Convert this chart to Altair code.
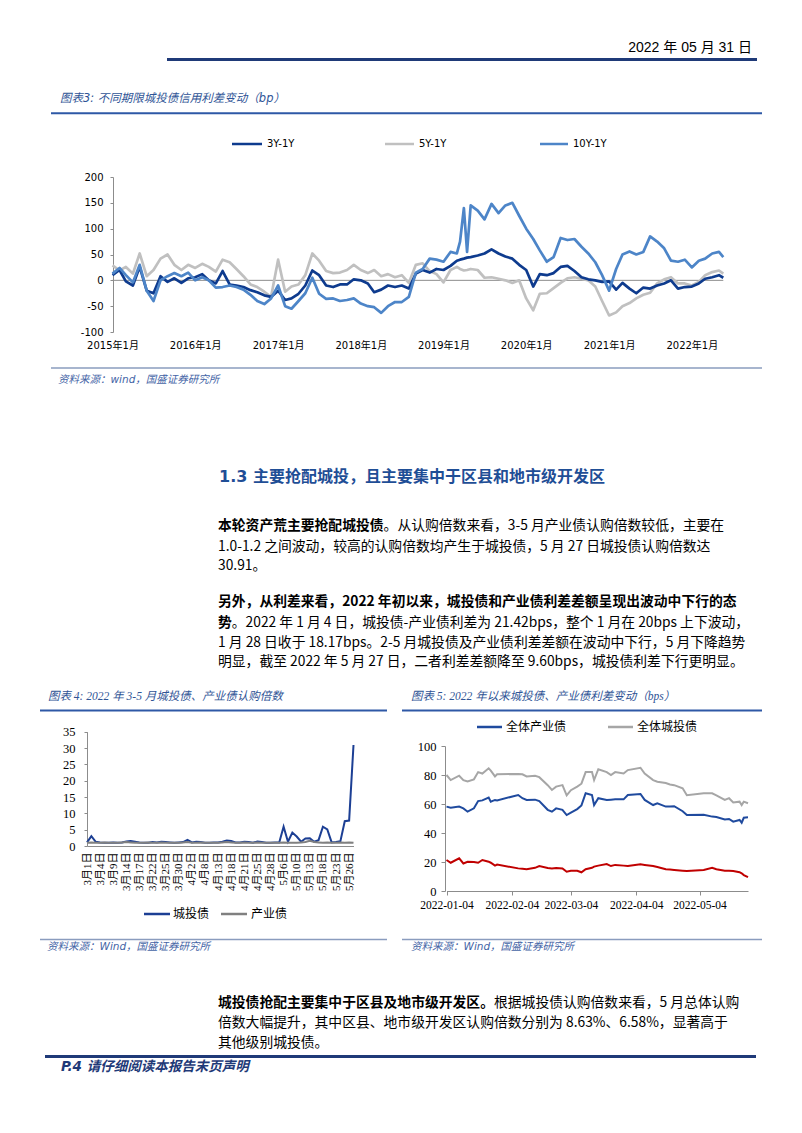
import altair as alt
import pandas as pd

# ======================= DATA =======================
# Chart 3: credit spreads by tenor (bp), read monthly (1st of month) 2015-01 .. 2022-05
spread_3y = [10, 20, -2, -10, 26, -20, -25, 8, -3, 4, -5, 4,
             6, 12, 0, -6, 18, -8, -10, -13, -19, -23, -29, -32,
             -20, -38, -35, -26, -10, 19, 10, -10, -13, -8, -8, 2,
             0, -6, -23, -18, -10, -13, -10, -16, 13, 20, 15, 22,
             20, 28, 38, 42, 45, 48, 52, 60, 52, 46, 42, 30,
             20, -12, 12, 10, 14, 26, 28, 18, 6, 2, 0, -3,
             -2, -18, -5, -16, -25, -14, -16, -10, -6, 0, -16, -13,
             -12, -6, 3, 6, 10]
spread_5y = [29, 19, 26, 13, 52, 8, 20, 42, 50, 30, 20, 30,
             24, 32, 26, 17, 40, 35, 22, 8, -8, -13, -22, -32,
             40, -22, -12, -8, 10, 52, 38, 18, 14, 15, 20, 30,
             20, 14, 20, 8, 12, 6, 10, -5, 30, 33, 18, 12,
             -4, 20, 26, 19, 22, 20, 5, 6, 3, 0, -5, 0,
             -35, -58, -26, -25, -15, -5, 4, 6, 3, 0, -12, -40,
             -68, -62, -50, -44, -35, -28, -24, -6, 2, 6, -6, -6,
             -10, -3, 10, 16, 19]
spread_10y = [13, 24, 10, -4, 30, -20, -40, 0, 8, 14, 8, 15,
              0, 6, 0, -14, -13, -10, -13, -18, -28, -40, -46, -35,
              -10, -50, -55, -40, -25, 5, -26, -36, -35, -40, -38, -35,
              -45, -50, -52, -63, -50, -42, -42, -32, 15, 22, 42, 40,
              36, 55, 52, 140, 145, 135, 118, 148, 130, 145, 150, 125,
              100, 80, 58, 36, 45, 82, 78, 80, 65, 52, 35, 10,
              -20, 22, 50, 56, 50, 55, 85, 75, 62, 38, 36, 40,
              25, 38, 42, 52, 55]
extra_dates = ["2019-03-15", "2019-04-15", "2022-05-20"]
extra_3y = [40, 44, 5]
extra_5y = [22, 20, 13]
extra_10y = [75, 55, 45]
month_dates = [f"{2015 + i // 12}-{i % 12 + 1:02d}-01" for i in range(len(spread_3y))]
series3_names = ["3Y-1Y", "5Y-1Y", "10Y-1Y"]

# Chart 4: subscription multiples, trading days Mar-May 2022
mar_days = [1, 2, 3, 4, 7, 8, 9, 10, 11, 14, 15, 16, 17, 18, 21, 22, 23, 24, 25, 28, 29, 30, 31]
apr_days = [1, 2, 6, 7, 8, 11, 12, 13, 14, 15, 18, 19, 20, 21, 22, 24, 25, 26, 27, 28, 29]
may_days = [5, 6, 7, 9, 10, 11, 12, 13, 16, 17, 18, 19, 20, 23, 24, 25, 26, 27]
days4 = ([f"3月{d}日" for d in mar_days] + [f"4月{d}日" for d in apr_days]
         + [f"5月{d}日" for d in may_days])
chengtou_mult = [1.1, 3.0, 1.3, 1.1, 1.0, 1.0, 1.1, 1.0, 1.1, 1.4,
                 1.5, 1.3, 1.1, 1.0, 1.0, 1.2, 1.1, 1.3, 1.2, 1.1,
                 1.0, 1.1, 1.2, 1.9, 1.1, 1.3, 1.2, 1.0, 1.0, 1.1,
                 1.1, 1.3, 1.7, 1.5, 1.1, 1.1, 1.3, 1.2, 1.0, 1.4,
                 1.2, 1.0, 1.0, 1.1, 1.1, 5.9, 1.3, 4.1, 2.9, 1.3,
                 2.3, 2.4, 1.3, 1.8, 5.9, 5.1, 1.1, 1.2, 1.5, 7.6,
                 7.8, 30.91]
chanye_mult = [1.0, 1.1, 1.0, 1.0, 1.1, 1.0, 1.0, 1.0, 1.1, 1.2,
               1.1, 1.0, 1.0, 1.0, 1.1, 1.0, 1.0, 1.1, 1.0, 1.0,
               1.0, 1.0, 1.1, 1.2, 1.0, 1.0, 1.1, 1.0, 1.0, 1.0,
               1.0, 1.1, 1.2, 1.1, 1.0, 1.0, 1.1, 1.0, 1.0, 1.1,
               1.0, 1.0, 1.0, 1.0, 1.0, 1.1, 1.0, 1.0, 1.0, 1.1,
               1.2, 1.6, 1.2, 1.1, 1.0, 1.1, 1.0, 1.0, 1.1, 1.0,
               1.1, 1.0]
legend4 = ["城投债", "产业债"]

# Chart 5: spreads since 2022 (bps)
dates5 = ["2022-01-04", "2022-01-06", "2022-01-10", "2022-01-12", "2022-01-14", "2022-01-17",
          "2022-01-19", "2022-01-21", "2022-01-24", "2022-01-25", "2022-01-27", "2022-01-28",
          "2022-02-07", "2022-02-09", "2022-02-11", "2022-02-15", "2022-02-17", "2022-02-21",
          "2022-02-23", "2022-02-25", "2022-02-28", "2022-03-02", "2022-03-04", "2022-03-07",
          "2022-03-09", "2022-03-11", "2022-03-14", "2022-03-15", "2022-03-17", "2022-03-21",
          "2022-03-23", "2022-03-25", "2022-03-29", "2022-03-31", "2022-04-06", "2022-04-08",
          "2022-04-12", "2022-04-14", "2022-04-18", "2022-04-20", "2022-04-22", "2022-04-26",
          "2022-04-28", "2022-05-06", "2022-05-10", "2022-05-12", "2022-05-16", "2022-05-18",
          "2022-05-20", "2022-05-23", "2022-05-24", "2022-05-25", "2022-05-27"]
chengtou_spread = [80, 76.5, 79.5, 76.5, 75.5, 77, 82, 81, 84.6, 83,
                   79, 80.5, 80.7, 80.5, 79, 79.5, 78.5, 73, 69.7, 72,
                   73, 66, 69.5, 72, 74, 82, 82, 76.5, 84, 82,
                   80, 82, 81, 83.4, 85, 81, 76.5, 75.4, 74.5, 73.5,
                   73, 70.8, 66, 67.4, 67.4, 66, 62.8, 64, 61, 61.6,
                   59.3, 61.6, 60.5]
chanye_spread = [58.2, 57.5, 58.2, 57, 54.7, 57, 62, 62.5, 64.5, 61.6,
                 62.8, 62.5, 66.2, 64, 62.8, 63, 62, 56, 54.7, 57,
                 56, 52.4, 54, 56.5, 59, 67.4, 66.2, 59.3, 64, 62.8,
                 63, 63.2, 63.2, 66.2, 66.9, 62.8, 59.3, 60.5, 58.2, 58.2,
                 58.5, 55, 52.4, 52.6, 51.3, 51, 49.4, 49.7, 47.8, 49,
                 47.1, 50.5, 50.8]
diff_spread = [21.4, 19.5, 22.5, 19, 20.2, 20, 19.5, 21.4, 20.2, 19.5,
               17.5, 18.2, 15.6, 15.3, 15, 16, 17.2, 15.8, 15.6, 15.8,
               15.6, 13.3, 14, 14, 12.9, 15, 16, 16.8, 17.5, 18.6,
               17.2, 18, 17.5, 17.2, 18.4, 18, 17.2, 16.5, 15, 14.8,
               14.5, 14, 13.8, 14.5, 16, 15, 14, 14, 13.8, 13,
               12.2, 11, 9.6]
legend5 = ["全体产业债", "全体城投债"]

# ======================= LAYOUT / STYLE =======================
W, H = 786, 1117
M = 8  # page margin


def X(v):
    return v - M


def Y(v):
    return v - M


NAVY = "#1F3A78"
CAPLINE = "#2E58A6"
CAP = "#2F5496"
SRC = "#4464A6"
SRCLINE = "#8A9CBE"
HEAD = "#1F4E96"
C3, C5, C10 = "#0E3B8E", "#C0C0C0", "#4D85C8"
B4, G4 = "#1C3F94", "#808080"
B5, G5, R5 = "#1F4A9E", "#A6A6A6", "#C00000"
F1 = "DejaVu Sans, Noto Sans CJK SC"
F4 = "Liberation Serif, Noto Sans CJK SC"
BODY = "Noto Sans CJK SC"


def T(x, y, s, size=13.8, weight="normal", style="normal", color="#000000",
      font=BODY, align="left"):
    return alt.Chart(pd.DataFrame({"s": [s]})).mark_text(
        align=align, baseline="middle", fontSize=size, fontWeight=weight,
        fontStyle=style, color=color, font=font
    ).encode(text="s:N", x=alt.value(X(x)), y=alt.value(Y(y)))


def HL(x1, x2, y, color, w):
    return alt.Chart(pd.DataFrame({"a": [0]})).mark_rule(
        color=color, strokeWidth=w
    ).encode(x=alt.value(X(x1)), x2=alt.value(X(x2)), y=alt.value(Y(y)))


def DT(s):
    yy, mm, dd = (int(p) for p in s.split("-"))
    return alt.DateTime(year=yy, month=mm, date=dd, utc=True)


layers = []

# ---------- page header ----------
layers.append(T(752, 48, "2022 年 05 月 31 日", size=14,
                font="Liberation Sans, Noto Sans CJK SC", align="right"))
layers.append(HL(167, 757, 59.5, NAVY, 3))

# ---------- chart 3 ----------
layers.append(T(60, 99, "图表3: 不同期限城投债信用利差变动（bp）", size=11.5,
                style="italic", color=CAP, font=F1))
layers.append(HL(51, 762, 113.3, CAPLINE, 2))
for (x1, x2, xt), col, name in zip([(232, 262, 267), (385, 414, 419), (540, 568, 573)],
                                   [C3, C5, C10], series3_names):
    layers.append(HL(x1, x2, 144, col, 2.5))
    layers.append(T(xt, 144, name, size=10, font=F1))

sx1 = alt.Scale(domain=[DT("2015-01-01"), DT("2022-05-20")],
                range=[X(112.5), X(723.3)], nice=False)
sy1 = alt.Scale(domain=[-100, 200], range=[Y(332), Y(177)], nice=False, zero=False)
ax1 = alt.Axis(orient="bottom", offset=Y(332) - H, domain=False, ticks=False, tickSize=0,
               labelPadding=8, values=[DT(f"{yr}-01-01") for yr in range(2015, 2023)],
               format="%Y年%-m月", labelFont=F1, labelFontSize=10, labelColor="#000000",
               labelFlush=False, labelOverlap=False, grid=False, title=None)
ay1 = alt.Axis(orient="left", offset=-X(113), values=list(range(-100, 201, 50)),
               labelExpr="datum.value + ''", domainColor="#8C8C8C", tickColor="#8C8C8C",
               tickSize=3, labelPadding=7, labelFont=F1, labelFontSize=10,
               labelColor="#000000", labelFlush=False, grid=False, title=None)


def series_df(dates, vals, xdates, xvals):
    df = pd.DataFrame({"date": dates + xdates, "value": vals + xvals})
    return df.sort_values("date").reset_index(drop=True)


enc_x1 = alt.X("date:T", scale=sx1, axis=ax1)
enc_y1 = alt.Y("value:Q", scale=sy1, axis=ay1)
zero_df = pd.DataFrame({"date": [month_dates[0]], "date2": [extra_dates[-1]], "value": [0]})
zero1 = alt.Chart(zero_df).mark_rule(color="#8C8C8C", strokeWidth=1).encode(
    x=enc_x1, x2="date2:T", y=enc_y1)
sub1 = [zero1]
for vals, xv, col in [(spread_5y, extra_5y, C5), (spread_3y, extra_3y, C3),
                      (spread_10y, extra_10y, C10)]:
    sub1.append(alt.Chart(series_df(month_dates, vals, extra_dates, xv)).mark_line(
        color=col, strokeWidth=2.7, strokeJoin="round").encode(x=enc_x1, y=enc_y1))
layers.append(alt.layer(*sub1))

layers.append(HL(51, 762, 368, SRCLINE, 1.3))
layers.append(T(58, 380, "资料来源：wind，国盛证券研究所", size=10.5, style="italic",
                color=SRC, font=F1))

# ---------- section text ----------
layers.append(T(219, 477, "1.3 主要抢配城投，且主要集中于区县和地市级开发区", size=16,
                weight="bold", color=HEAD, font=F1))
bold_w = 13.8
body = [
    (218, 526, "本轮资产荒主要抢配城投债", "bold"),
    (218 + 12 * bold_w, 526, "。从认购倍数来看，3-5 月产业债认购倍数较低，主要在", "normal"),
    (218, 546.5, "1.0-1.2 之间波动，较高的认购倍数均产生于城投债，5 月 27 日城投债认购倍数达", "normal"),
    (218, 566, "30.91。", "normal"),
    (218, 602, "另外，从利差来看，2022 年初以来，城投债和产业债利差差额呈现出波动中下行的态", "bold"),
    (218, 622.5, "势", "bold"),
    (218 + bold_w, 622.5, "。2022 年 1 月 4 日，城投债-产业债利差为 21.42bps，整个 1 月在 20bps 上下波动，", "normal"),
    (218, 642.5, "1 月 28 日收于 18.17bps。2-5 月城投债及产业债利差差额在波动中下行，5 月下降趋势", "normal"),
    (218, 662, "明显，截至 2022 年 5 月 27 日，二者利差差额降至 9.60bps，城投债利差下行更明显。", "normal"),
    (218, 1003, "城投债抢配主要集中于区县及地市级开发区。", "bold"),
    (218 + 20 * bold_w, 1003, "根据城投债认购倍数来看，5 月总体认购", "normal"),
    (218, 1023, "倍数大幅提升，其中区县、地市级开发区认购倍数分别为 8.63%、6.58%，显著高于", "normal"),
    (218, 1043, "其他级别城投债。", "normal"),
]
for x, y, s, w in body:
    layers.append(T(x, y, s, size=13.8, weight=w))

# ---------- chart 4 ----------
layers.append(T(48, 697, "图表 4: 2022 年 3-5 月城投债、产业债认购倍数", size=11.5,
                style="italic", color=CAP, font=F4))
layers.append(HL(40, 387, 710.5, CAPLINE, 2))
sx4 = alt.Scale(type="point", domain=days4, range=[X(87), X(353.5)], padding=0)
sy4 = alt.Scale(domain=[0, 35], range=[Y(846), Y(731.7)], nice=False)
ax4 = alt.Axis(orient="bottom", offset=Y(846) - H, values=days4[::3], labelAngle=270,
               domainColor="#8C8C8C", ticks=False, tickSize=0, labelPadding=6,
               labelFont=F4, labelFontSize=11, labelColor="#000000", labelOverlap=False,
               labelFlush=False, grid=False, title=None)
ay4 = alt.Axis(orient="left", offset=-X(87), values=list(range(0, 36, 5)),
               domainColor="#8C8C8C", tickColor="#8C8C8C", tickSize=3, labelPadding=9,
               labelFont=F4, labelFontSize=12.5, labelColor="#000000", labelFlush=False,
               grid=False, title=None)
df4a = pd.DataFrame({"day": days4, "value": chengtou_mult})
df4b = pd.DataFrame({"day": days4, "value": chanye_mult})
enc_x4 = alt.X("day:O", scale=sx4, axis=ax4, sort=days4)
enc_y4 = alt.Y("value:Q", scale=sy4, axis=ay4)
layers.append(alt.layer(
    alt.Chart(df4a).mark_line(color=B4, strokeWidth=2).encode(x=enc_x4, y=enc_y4),
    alt.Chart(df4b).mark_line(color=G4, strokeWidth=2).encode(x=enc_x4, y=enc_y4),
))
layers.append(HL(144, 170, 914, B4, 2.5))
layers.append(T(173, 914, legend4[0], size=12, font=F4))
layers.append(HL(221, 247, 914, G4, 2.5))
layers.append(T(251, 914, legend4[1], size=12, font=F4))
layers.append(HL(40, 387, 939.5, SRCLINE, 1.3))
layers.append(T(47, 947, "资料来源：Wind，国盛证券研究所", size=10.5, style="italic",
                color=SRC, font=F1))

# ---------- chart 5 ----------
layers.append(T(411, 697, "图表 5: 2022 年以来城投债、产业债利差变动（bps）", size=11.5,
                style="italic", color=CAP, font=F4))
layers.append(HL(402, 762, 710.5, CAPLINE, 2))
sx5 = alt.Scale(domain=[DT("2022-01-04"), DT("2022-05-27")],
                range=[X(446.5), X(748)], nice=False)
sy5 = alt.Scale(domain=[0, 100], range=[Y(891), Y(746)], nice=False)
ax5 = alt.Axis(orient="bottom", offset=Y(891) - H,
               values=[DT(d) for d in ["2022-01-04", "2022-02-04", "2022-03-04",
                                        "2022-04-04", "2022-05-04"]],
               format="%Y-%m-%d", domainColor="#8C8C8C", tickColor="#8C8C8C", tickSize=4,
               labelPadding=4, labelFont=F4, labelFontSize=11.5, labelColor="#000000",
               labelOverlap=False, labelFlush=False, grid=False, title=None)
ay5 = alt.Axis(orient="left", offset=-X(445), values=list(range(0, 101, 20)),
               domainColor="#8C8C8C", tickColor="#8C8C8C", tickSize=4, labelPadding=5,
               labelFont=F4, labelFontSize=12.5, labelColor="#000000", labelFlush=False,
               grid=False, title=None)
enc_x5 = alt.X("date:T", scale=sx5, axis=ax5)
enc_y5 = alt.Y("value:Q", scale=sy5, axis=ay5)
sub5 = []
for vals, col in [(chanye_spread, B5), (chengtou_spread, G5), (diff_spread, R5)]:
    sub5.append(alt.Chart(pd.DataFrame({"date": dates5, "value": vals})).mark_line(
        color=col, strokeWidth=2).encode(x=enc_x5, y=enc_y5))
layers.append(alt.layer(*sub5))
layers.append(HL(477, 502, 727, B5, 2.5))
layers.append(T(506, 727, legend5[0], size=12, font=F4))
layers.append(HL(608, 633, 727, G5, 2.5))
layers.append(T(637, 727, legend5[1], size=12, font=F4))
layers.append(HL(402, 762, 939.5, SRCLINE, 1.3))
layers.append(T(411, 947, "资料来源：Wind，国盛证券研究所", size=10.5, style="italic",
                color=SRC, font=F1))

# ---------- footer ----------
layers.append(HL(45, 756, 1056.5, NAVY, 3))
layers.append(T(61, 1067, "P.4 请仔细阅读本报告末页声明", size=13.5, weight="bold",
                style="italic", color=NAVY, font=F1))

chart = alt.layer(*layers).resolve_scale(
    x="independent", y="independent"
).resolve_axis(
    x="independent", y="independent"
).properties(
    width=W, height=H, autosize=alt.AutoSizeParams(type="none"), padding=0
).configure_view(strokeWidth=0)

chart.save("out.html", embed_options={"renderer": "svg", "actions": False})
